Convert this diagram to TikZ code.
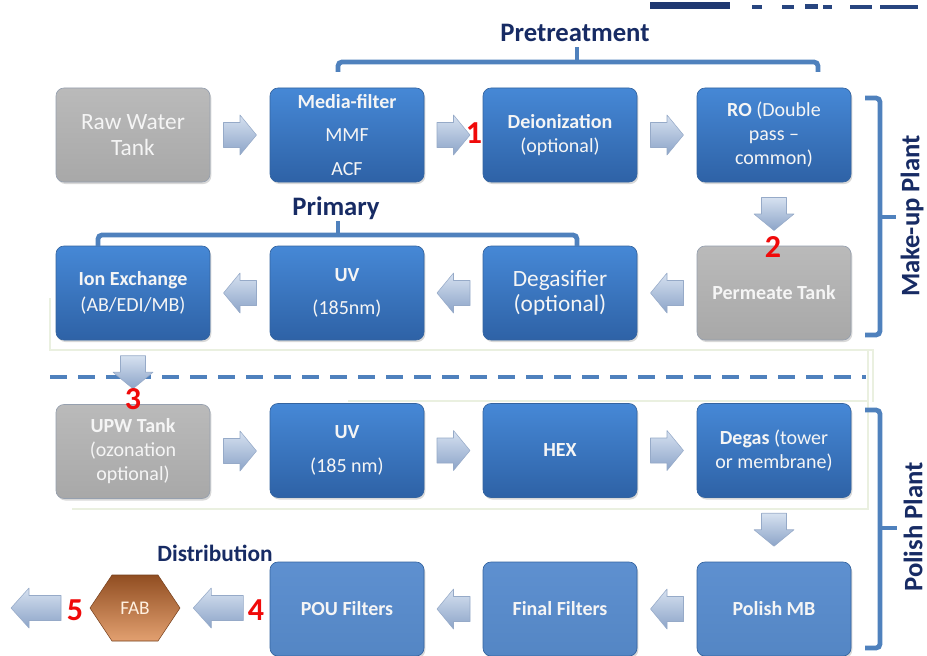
\documentclass[tikz,border=0pt]{standalone}
\usepackage{fontspec}
\setmainfont{Carlito}
\usetikzlibrary{calc,shadows}
\definecolor{navy}{RGB}{23,43,100}
\definecolor{brk}{RGB}{79,129,189}
\definecolor{boxtop}{RGB}{70,136,214}
\definecolor{boxbot}{RGB}{46,98,166}
\definecolor{boxdraw}{RGB}{52,100,160}
\definecolor{lbtop}{RGB}{94,144,208}
\definecolor{lbbot}{RGB}{84,134,196}
\definecolor{graytop}{RGB}{186,186,186}
\definecolor{graybot}{RGB}{168,168,168}
\definecolor{graydraw}{RGB}{150,160,175}
\definecolor{arrtop}{RGB}{214,225,240}
\definecolor{arrbot}{RGB}{140,164,200}
\definecolor{arrdraw}{RGB}{150,170,200}
\definecolor{fabtop}{RGB}{145,78,34}
\definecolor{fabbot}{RGB}{226,160,112}
\definecolor{faint}{RGB}{234,240,224}
\definecolor{numred}{RGB}{240,10,10}
\definecolor{txtw}{RGB}{245,245,245}
\tikzset{
  basebox/.style={rounded corners=6pt, minimum width=115.5pt, minimum height=70.5pt,
    inner sep=2pt, align=center, text=txtw, line width=0.5pt,
    drop shadow={opacity=0.3, shadow xshift=1pt, shadow yshift=-1.5pt}},
  bluebox/.style={basebox, top color=boxtop, bottom color=boxbot, draw=boxdraw},
  lightbox/.style={basebox, top color=lbtop, bottom color=lbbot, draw=boxdraw},
  graybox/.style={basebox, top color=graytop, bottom color=graybot, draw=graydraw},
  fb/.style={font=\fontsize{15}{#1}\selectfont},
  num/.style={text=numred, font=\bfseries\fontsize{24}{26}\selectfont, inner sep=0pt},
  heading/.style={text=navy, font=\bfseries\fontsize{#1}{#1}\selectfont, inner sep=0pt},
  bracket/.style={draw=brk, line width=3.6pt, rounded corners=3pt},
  barrow/.pic={\shade[top color=arrtop, bottom color=arrbot, draw=arrdraw, line width=0.4pt, line join=round]
     (-16.5,-12.5) -- (0,-12.5) -- (0,-20) -- (16.5,0) -- (0,20) -- (0,12.5) -- (-16.5,12.5) -- cycle;},
  barrowlong/.pic={\shade[top color=arrtop, bottom color=arrbot, draw=arrdraw, line width=0.4pt, line join=round]
     (-25,-12.5) -- (7,-12.5) -- (7,-20) -- (25,0) -- (7,20) -- (7,12.5) -- (-25,12.5) -- cycle;},
}
\begin{document}
\begin{tikzpicture}[x=0.75pt,y=-0.75pt]
\useasboundingbox (0,0) rectangle (927,656);
\fill[white] (0,0) rectangle (927,656);
% top-right cropped logo fragments
\fill[navy!85!brk] (650,2) rectangle (730,9);
\fill[navy!70!brk] (752,5) rectangle (762,9);
\fill[navy!70!brk] (782,5) rectangle (794,9);
\fill[navy!70!brk] (805,4) rectangle (818,9);
\fill[navy!70!brk] (823,5) rectangle (832,9);
\fill[navy!70!brk] (850,5) rectangle (872,9);
\fill[navy!70!brk] (880,5) rectangle (918,9);
% faint frame lines
\draw[faint, line width=1pt] (50,298) -- (50,350) -- (873,350) -- (873,402);
\draw[faint, line width=1pt] (868,350) -- (868,509) -- (72,509);
\draw[faint, line width=1pt] (348,401) -- (868,401);
% dashed separator
\draw[brk, line width=2.4pt, dash pattern=on 12.5pt off 8.5pt] (50,377) -- (866,377);

% row 1
\node[graybox, font=\fontsize{17.5}{20}\selectfont] (raw) at (133,135) {Raw Water\\Tank};
\node[bluebox, fb=25] (mf) at (347,135) {\textbf{Media-filter}\\MMF\\ACF};
\node[bluebox, fb=17.5] (deion) at (560,135) {\textbf{Deionization}\\(optional)};
\node[bluebox, fb=18] (ro) at (774,135) {\textbf{RO} (Double\\pass --\\common)};
% row 2
\node[bluebox, fb=19] (ion) at (133,293) {\textbf{Ion Exchange}\\(AB/EDI/MB)};
\node[bluebox, fb=25] (uv1) at (347,293) {\textbf{UV}\\(185nm)};
\node[bluebox, font=\fontsize{17.5}{19}\selectfont] (degasif) at (560,293) {Degasifier\\(optional)};
\node[graybox, fb=18] (perm) at (774,293) {\textbf{Permeate Tank}};
% row 3
\node[graybox, fb=18] (upw) at (133,451.5) {\textbf{UPW Tank}\\(ozonation\\optional)};
\node[bluebox, fb=25] (uv2) at (347,450.5) {\textbf{UV}\\(185 nm)};
\node[bluebox, fb=18] (hex) at (560,450.5) {\textbf{HEX}};
\node[bluebox, fb=18] (degas) at (774,450.5) {\textbf{Degas} (tower\\or membrane)};
% row 4
\node[lightbox, fb=18] (pou) at (347,609) {\textbf{POU Filters}};
\node[lightbox, fb=18] (final) at (560,609) {\textbf{Final Filters}};
\node[lightbox, fb=18] (pmb) at (774,609) {\textbf{Polish MB}};
% FAB hexagon
\shade[top color=fabtop, bottom color=fabbot, draw=fabtop!80!black, line width=0.4pt]
  (90,608) -- (112,575) -- (158,575) -- (180,608) -- (158,641) -- (112,641) -- cycle;
\node[minimum width=67.5pt, minimum height=49.5pt, inner sep=0pt, text=orange!12, font=\fontsize{14.5}{16}\selectfont] (fab) at (135,608) {FAB};
\coordinate (out) at (10,608);

% block arrows
\pic at ($(raw.east)!0.5!(mf.west)$) {barrow};
\pic at ($(mf.east)!0.5!(deion.west)$) {barrow};
\pic at ($(deion.east)!0.5!(ro.west)$) {barrow};
\pic[rotate=-90] at ($(ro.south)!0.5!(perm.north)$) {barrow};
\pic[rotate=180] at ($(perm.west)!0.5!(degasif.east)$) {barrow};
\pic[rotate=180] at ($(degasif.west)!0.5!(uv1.east)$) {barrow};
\pic[rotate=180] at ($(uv1.west)!0.5!(ion.east)$) {barrow};
\pic[rotate=-90] at ($(ion.south)!0.5!(upw.north)$) {barrow};
\pic at ($(upw.east)!0.5!(uv2.west)$) {barrow};
\pic at ($(uv2.east)!0.5!(hex.west)$) {barrow};
\pic at ($(hex.east)!0.5!(degas.west)$) {barrow};
\pic[rotate=-90] at ($(degas.south)!0.5!(pmb.north)$) {barrow};
\pic[rotate=180] at ($(pmb.west)!0.5!(final.east)$) {barrow};
\pic[rotate=180] at ($(final.west)!0.5!(pou.east)$) {barrow};
\pic[rotate=180] at ($(fab.east)+(38,0)$) {barrowlong};
\pic[rotate=180] at ($(out)+(26,0)$) {barrowlong};

% red numbers
\node[num] (n1) at (474,133) {1};
\node[num] (n2) at (773,247) {2};
\node[num] (n3) at (133,399) {3};
\node[num] (n4) at (256,610) {4};
\node[num] (n5) at (75,610) {5};

% headings
\node[heading=20] (pretreat) at (575,33) {Pretreatment};
\node[heading=20] (primary) at (336,208) {Primary};
\node[heading=17.5] (distrib) at (215,553) {Distribution};
\node[heading=20, rotate=90] (makeup) at (912,216) {Make-up Plant};
\node[heading=20, rotate=90] (polish) at (913,527) {Polish Plant};

% brackets
\draw[bracket] (338,72) -- (338,62) -- (818,62) -- (818,72);
\draw[bracket] (577,62) -- (577,47);
\draw[bracket] (98,246) -- (98,235) -- (577,235) -- (577,246);
\draw[bracket] (338,235) -- (338,221);
\draw[bracket] (865,98) -- (880,98) -- (880,335) -- (865,335);
\draw[bracket] (880,217) -- (896,217);
\draw[bracket] (865,410) -- (880,410) -- (880,648) -- (865,648);
\draw[bracket] (880,528) -- (897,528);
\end{tikzpicture}
\end{document}
